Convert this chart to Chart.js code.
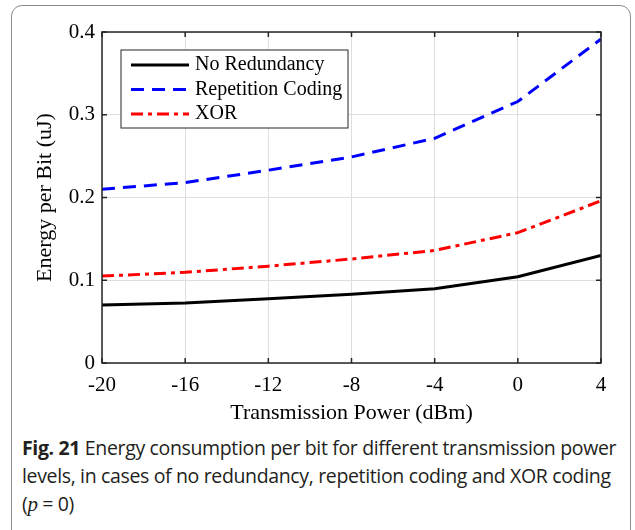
<!DOCTYPE html>
<html>
<head>
<meta charset="utf-8">
<script src="https://cdn.jsdelivr.net/npm/chart.js@4/dist/chart.umd.min.js"></script>
<style>
  body { margin: 0; background: #fff; width: 635px; height: 530px; overflow: hidden; position: relative; }
  #frame { position: absolute; left: 11px; top: 5px; width: 620px; height: 560px;
           border: 1.5px solid #8c8c8c; border-radius: 11px; box-sizing: border-box; }
  #holder { position: absolute; left: 0; top: 0; width: 635px; height: 430px; }
  #caption { position: absolute; left: 22px; top: 434px; width: 600px;
             font-family: "Open Sans", sans-serif; font-size: 19.5px; line-height: 28px; color: #231f20;
             letter-spacing: -0.35px; }
  #caption b { font-weight: 700; }
</style>
</head>
<body>
<div id="frame"></div>
<div id="holder"><canvas id="c1"></canvas></div>
<div id="caption"><b>Fig. 21</b> Energy consumption per bit for different transmission power levels, in cases of no redundancy, repetition coding and XOR coding<br>(<i style="font-family:'Liberation Serif',serif;font-size:21px">p</i> = 0)</div>
<script>
// values
var power = [-20, -16, -12, -8, -4, 0, 4];
var noRedundancy = [0.070, 0.0725, 0.0777, 0.083, 0.0898, 0.1043, 0.130];
var repetition = [0.210, 0.218, 0.233, 0.249, 0.2715, 0.316, 0.3915];
var xorCoding = [0.105, 0.1096, 0.117, 0.1257, 0.136, 0.1575, 0.196];
var seriesNames = ["No Redundancy", "Repetition Coding", "XOR"];
var yTicks = [0, 0.1, 0.2, 0.3, 0.4];
var xTicks = [-20, -16, -12, -8, -4, 0, 4];

var serif = "'Liberation Serif', 'Times New Roman', serif";

function pairs(ys) {
    let out = [];
    for (let i = 0; i < power.length; i++)
        out.push({x: power[i], y: ys[i]});
    return out;
}

// inward tick marks on all four sides, like the matlab box
var boxTicks = {
    id: "boxTicks",
    afterDatasetsDraw(chart) {
        let ctx = chart.ctx, a = chart.chartArea;
        let sx = chart.scales.x, sy = chart.scales.y;
        ctx.save();
        ctx.strokeStyle = "#262626";
        ctx.lineWidth = 1.5;
        ctx.beginPath();
        for (let v of xTicks) {
            let p = sx.getPixelForValue(v);
            ctx.moveTo(p, a.bottom); ctx.lineTo(p, a.bottom - 5);
            ctx.moveTo(p, a.top); ctx.lineTo(p, a.top + 5);
        }
        for (let v of yTicks) {
            let p = sy.getPixelForValue(v);
            ctx.moveTo(a.left, p); ctx.lineTo(a.left + 5, p);
            ctx.moveTo(a.right, p); ctx.lineTo(a.right - 5, p);
        }
        ctx.stroke();
        ctx.strokeRect(a.left, a.top, a.right - a.left, a.bottom - a.top);
        ctx.restore();
    }
};

// legend box in the upper left of the axes
var boxLegend = {
    id: "boxLegend",
    afterDraw(chart) {
        let ctx = chart.ctx, a = chart.chartArea;
        let x0 = a.left + 19, y0 = a.top + 18, w = 227, h = 78;
        ctx.save();
        ctx.fillStyle = "#fff";
        ctx.fillRect(x0, y0, w, h);
        ctx.strokeStyle = "#262626";
        ctx.lineWidth = 1;
        ctx.strokeRect(x0, y0, w, h);
        ctx.font = "20px " + serif;
        ctx.textBaseline = "middle";
        chart.data.datasets.forEach((ds, i) => {
            let y = y0 + 15 + i * 24.5;
            ctx.strokeStyle = ds.borderColor;
            ctx.lineWidth = ds.borderWidth;
            ctx.setLineDash(ds.borderDash || []);
            ctx.beginPath();
            ctx.moveTo(x0 + 10, y);
            ctx.lineTo(x0 + 68, y);
            ctx.stroke();
            ctx.setLineDash([]);
            ctx.fillStyle = "#000";
            ctx.fillText(ds.label, x0 + 74, y);
        });
        ctx.restore();
    }
};

function start() {
    let canvas = document.getElementById("c1");
    new Chart(canvas, {
        type: "line",
        data: {
            datasets: [
                {label: seriesNames[0], data: pairs(noRedundancy), borderColor: "#000000", borderWidth: 3},
                {label: seriesNames[1], data: pairs(repetition), borderColor: "#0000ff", borderWidth: 3, borderDash: [13, 8]},
                {label: seriesNames[2], data: pairs(xorCoding), borderColor: "#ff0000", borderWidth: 3, borderDash: [12, 5, 4, 5]}
            ]
        },
        options: {
            responsive: true,
            maintainAspectRatio: false,
            animation: false,
            layout: {padding: {left: 12, right: 34, top: 32, bottom: 0}},
            elements: {point: {radius: 0}, line: {tension: 0}},
            plugins: {legend: {display: false}, tooltip: {enabled: false}},
            scales: {
                x: {
                    type: "linear", min: -20, max: 4,
                    afterFit: (s) => { s.height = 67; },
                    afterBuildTicks: (s) => { s.ticks = xTicks.map(v => ({value: v})); },
                    grid: {color: "#dedede", lineWidth: 1, drawTicks: false},
                    border: {display: false},
                    ticks: {color: "#000", padding: 10, maxRotation: 0, font: {family: serif, size: 21}},
                    title: {display: true, text: "Transmission Power (dBm)", color: "#000",
                            padding: {top: 0, bottom: 4}, font: {family: serif, size: 22}}
                },
                y: {
                    min: 0, max: 0.4,
                    afterFit: (s) => { s.width = 90; },
                    afterBuildTicks: (s) => { s.ticks = yTicks.map(v => ({value: v})); },
                    grid: {color: "#dedede", lineWidth: 1, drawTicks: false},
                    border: {display: false},
                    ticks: {color: "#000", padding: 7, font: {family: serif, size: 21},
                            callback: (v) => v === 0 ? "0" : v.toFixed(1)},
                    title: {display: true, text: "Energy per Bit (uJ)", color: "#000",
                            padding: {top: 20, bottom: 0}, font: {family: serif, size: 22}}
                }
            }
        },
        plugins: [boxTicks, boxLegend]
    });
}

start();
</script>
</body>
</html>
